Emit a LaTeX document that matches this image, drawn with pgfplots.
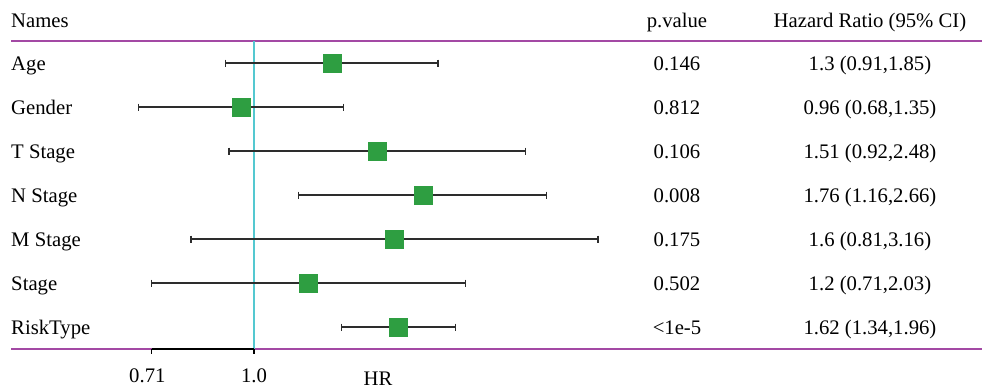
\documentclass[border=0pt]{standalone}
\usepackage{pgfplots}
\pgfplotsset{compat=1.18}
\usepackage{fontspec}
\setmainfont{Liberation Serif}

\definecolor{boxgreen}{RGB}{46,158,65}
\definecolor{refcyan}{RGB}{84,200,208}
\definecolor{rulepurple}{RGB}{163,73,164}
\definecolor{cigray}{RGB}{45,45,45}

\tikzset{rowtext/.style={anchor=base, yshift=-7.5pt}}
\pgfplotsset{ci/.style={cigray, line width=1.3pt, mark=|, mark size=3.5pt, mark options={solid, line width=1.3pt}}}

\begin{document}
\begin{tikzpicture}[every node/.style={inner sep=0pt}]
\fontsize{20.7}{24}\selectfont
\begin{axis}[
  scale only axis,
  width=982pt, height=391pt,
  xmode=log,
  xmin=0.4276, xmax=11.413,
  ymin=-0.4318, ymax=8.4545,
  y dir=reverse,
  hide axis,
  clip=false,
]
% horizontal rules of the table
\addplot[rulepurple, line width=1.8pt] coordinates {(0.4437,0.5) (11.413,0.5)};
\addplot[rulepurple, line width=1.8pt] coordinates {(0.4437,7.5) (11.413,7.5)};
% reference line at HR = 1
\addplot[refcyan, line width=1.4pt] coordinates {(1,0.5) (1,7.5)};
% x axis segment with ticks
\addplot[black, line width=1.3pt] coordinates {(0.71,7.5) (1,7.5)};
\addplot[black, line width=1.3pt] coordinates {(0.71,7.5) (0.71,7.614)};
\addplot[black, line width=1.3pt] coordinates {(1,7.5) (1,7.614)};

% confidence intervals
\addplot[ci] coordinates {(0.91,1) (1.85,1)};
\addplot[ci] coordinates {(0.68,2) (1.35,2)};
\addplot[ci] coordinates {(0.92,3) (2.48,3)};
\addplot[ci] coordinates {(1.16,4) (2.66,4)};
\addplot[ci] coordinates {(0.81,5) (3.16,5)};
\addplot[ci] coordinates {(0.71,6) (2.03,6)};
\addplot[ci] coordinates {(1.34,7) (1.96,7)};

% point estimates
\addplot[boxgreen, only marks, mark=square*, mark size=9pt, mark options={fill=boxgreen, draw=boxgreen, line width=0pt}]
  coordinates {(1.3,1) (0.96,2) (1.51,3) (1.76,4) (1.6,5) (1.2,6) (1.62,7)};

% header
\node[anchor=base west] at (axis cs:0.4437,0.2045) {Names};
\node[anchor=base] at (axis cs:4.115,0.2045) {p.value};
\node[anchor=base] at (axis cs:7.848,0.2045) {Hazard Ratio (95\% CI)};

% row labels
\node[rowtext, anchor=base west] at (axis cs:0.4437,1) {Age};
\node[rowtext, anchor=base west] at (axis cs:0.4437,2) {Gender};
\node[rowtext, anchor=base west] at (axis cs:0.4437,3) {T Stage};
\node[rowtext, anchor=base west] at (axis cs:0.4437,4) {N Stage};
\node[rowtext, anchor=base west] at (axis cs:0.4437,5) {M Stage};
\node[rowtext, anchor=base west] at (axis cs:0.4437,6) {Stage};
\node[rowtext, anchor=base west] at (axis cs:0.4437,7) {RiskType};

% p values
\node[rowtext] at (axis cs:4.115,1) {0.146};
\node[rowtext] at (axis cs:4.115,2) {0.812};
\node[rowtext] at (axis cs:4.115,3) {0.106};
\node[rowtext] at (axis cs:4.115,4) {0.008};
\node[rowtext] at (axis cs:4.115,5) {0.175};
\node[rowtext] at (axis cs:4.115,6) {0.502};
\node[rowtext] at (axis cs:4.115,7) {<1e-5};

% hazard ratios
\node[rowtext] at (axis cs:7.848,1) {1.3 (0.91,1.85)};
\node[rowtext] at (axis cs:7.848,2) {0.96 (0.68,1.35)};
\node[rowtext] at (axis cs:7.848,3) {1.51 (0.92,2.48)};
\node[rowtext] at (axis cs:7.848,4) {1.76 (1.16,2.66)};
\node[rowtext] at (axis cs:7.848,5) {1.6 (0.81,3.16)};
\node[rowtext] at (axis cs:7.848,6) {1.2 (0.71,2.03)};
\node[rowtext] at (axis cs:7.848,7) {1.62 (1.34,1.96)};

% tick labels and axis title
\node[anchor=base] at (axis cs:0.70,8.25) {0.71};
\node[anchor=base] at (axis cs:1.0,8.25) {1.0};
\node[anchor=base] at (axis cs:1.514,8.34) {HR};
\end{axis}
\pgfresetboundingbox
\path (0,0) rectangle (982pt,391pt);
\end{tikzpicture}
\end{document}
